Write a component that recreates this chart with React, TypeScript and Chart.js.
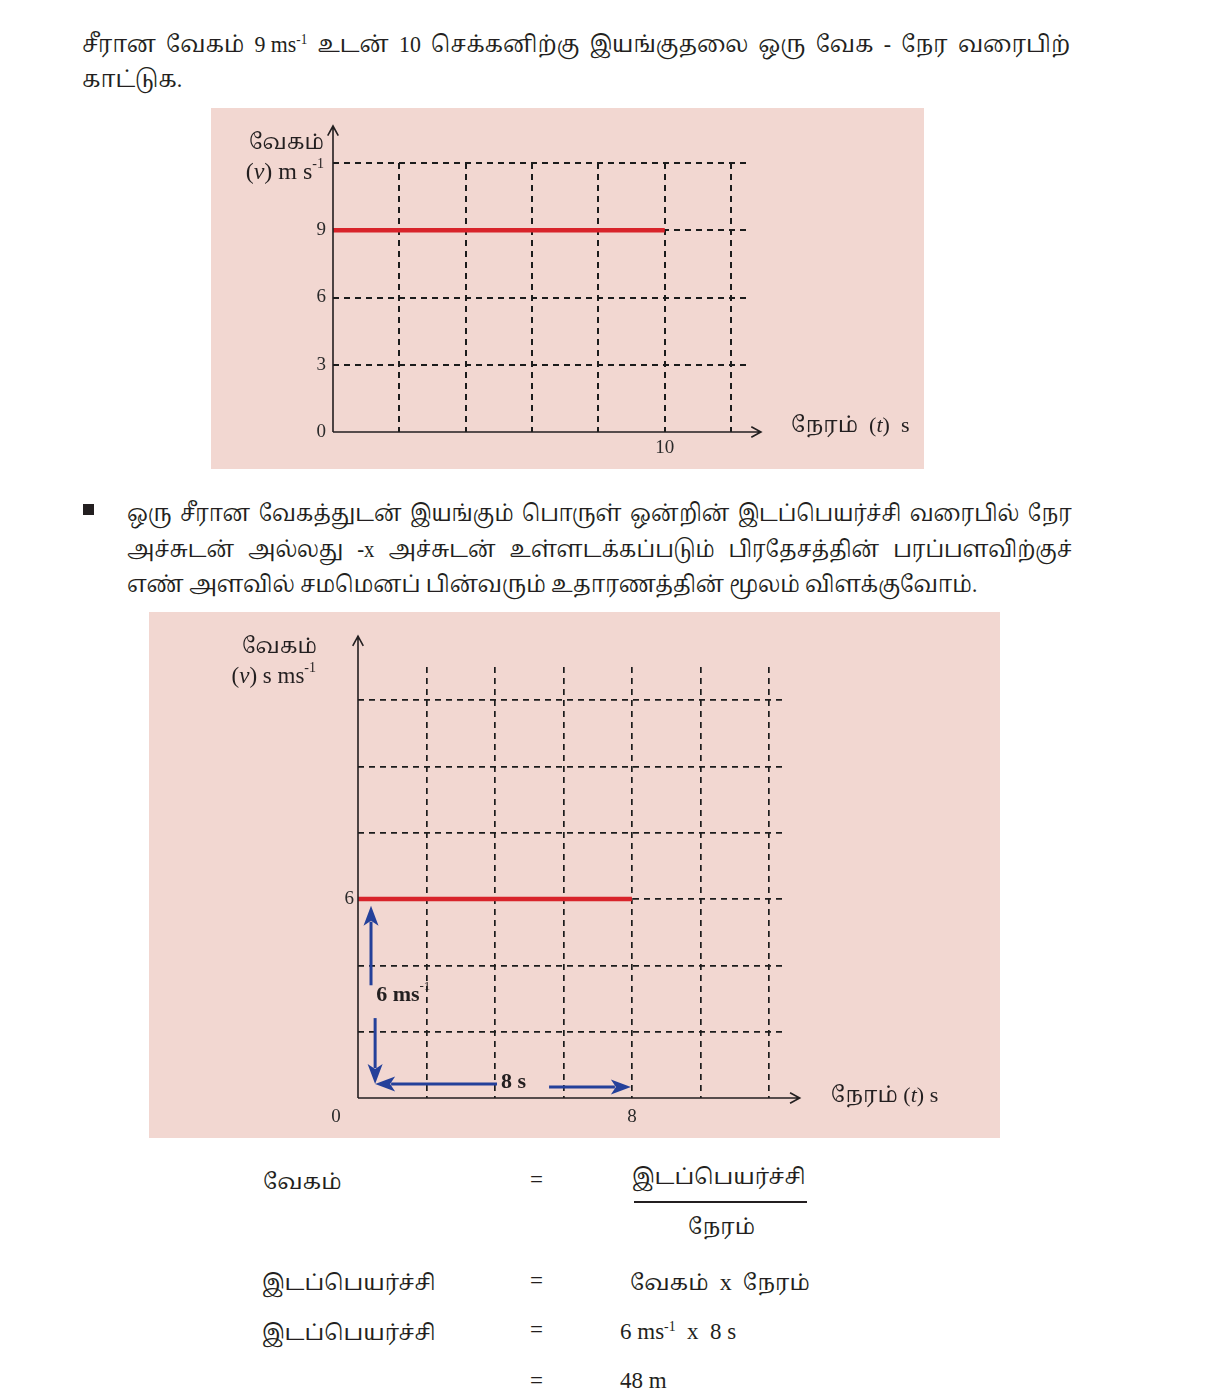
import React, { useEffect, useRef } from "react";
import { Chart, registerables } from "chart.js";

Chart.register(...registerables);

// ---------------- data ----------------
const chart1Time = [0, 10];
const chart1Velocity = [9, 9];
const chart1YTickLabels = [0, 3, 6, 9];
const chart1XTickLabels = [10];

const chart2Time = [0, 8];
const chart2Velocity = [6, 6];
const chart2YTickLabels = [6];
const chart2XTickLabels = [8];

// blue dimension arrows on the second chart (data units: s, m/s)
const arrowFromT = [0.38, 0.5, 4.06, 5.58];
const arrowFromV = [3.4, 2.41, 0.42, 0.33];
const arrowToT = [0.38, 0.5, 0.5, 7.97];
const arrowToV = [5.8, 0.42, 0.42, 0.33];

// ---------------- styles ----------------
const PINK = "#f2d7d1";
const INK = "#231f20";
const RED = "#d8232a";
const BLUE = "#24409a";
const SERIF =
  '"Liberation Serif", "Times New Roman", "Noto Serif Tamil", "Noto Sans Tamil", "Lohit Tamil", serif';

type Run = { t: string; size: number; italic?: boolean; bold?: boolean; sup?: boolean };

function drawRuns(
  ctx: CanvasRenderingContext2D,
  runs: Run[],
  x: number,
  y: number,
  align: "left" | "right" | "center",
  color = INK
) {
  ctx.save();
  ctx.fillStyle = color;
  ctx.textBaseline = "middle";
  ctx.textAlign = "left";
  const fontOf = (r: Run) =>
    `${r.italic ? "italic " : ""}${r.bold ? "bold " : ""}${r.sup ? Math.round(r.size * 0.6) : r.size}px ${SERIF}`;
  let total = 0;
  const widths = runs.map((r) => {
    ctx.font = fontOf(r);
    const w = ctx.measureText(r.t).width;
    total += w;
    return w;
  });
  let cx = align === "left" ? x : align === "right" ? x - total : x - total / 2;
  runs.forEach((r, i) => {
    ctx.font = fontOf(r);
    ctx.fillText(r.t, cx, r.sup ? y - r.size * 0.38 : y);
    cx += widths[i];
  });
  ctx.restore();
}

function axisArrow(ctx: CanvasRenderingContext2D, x0: number, y0: number, x1: number, y1: number) {
  const ang = Math.atan2(y1 - y0, x1 - x0);
  const L = 11;
  const W = 0.5;
  ctx.save();
  ctx.strokeStyle = INK;
  ctx.lineWidth = 1.6;
  ctx.setLineDash([]);
  ctx.beginPath();
  ctx.moveTo(x0, y0);
  ctx.lineTo(x1, y1);
  ctx.moveTo(x1 - L * Math.cos(ang - W), y1 - L * Math.sin(ang - W));
  ctx.lineTo(x1, y1);
  ctx.lineTo(x1 - L * Math.cos(ang + W), y1 - L * Math.sin(ang + W));
  ctx.stroke();
  ctx.restore();
}

function filledArrow(ctx: CanvasRenderingContext2D, x0: number, y0: number, x1: number, y1: number) {
  const ang = Math.atan2(y1 - y0, x1 - x0);
  const HL = 20;
  const HW = 7.5;
  const bx = x1 - HL * Math.cos(ang);
  const by = y1 - HL * Math.sin(ang);
  ctx.save();
  ctx.strokeStyle = BLUE;
  ctx.fillStyle = BLUE;
  ctx.lineWidth = 3;
  ctx.setLineDash([]);
  ctx.beginPath();
  ctx.moveTo(x0, y0);
  ctx.lineTo(bx + 4 * Math.cos(ang), by + 4 * Math.sin(ang));
  ctx.stroke();
  ctx.beginPath();
  ctx.moveTo(x1, y1);
  ctx.lineTo(bx + HW * Math.sin(ang), by - HW * Math.cos(ang));
  ctx.lineTo(bx + 5 * Math.cos(ang), by + 5 * Math.sin(ang));
  ctx.lineTo(bx - HW * Math.sin(ang), by + HW * Math.cos(ang));
  ctx.closePath();
  ctx.fill();
  ctx.restore();
}

type Spec = {
  time: number[];
  vel: number[];
  xMax: number;
  yMax: number;
  xStep: number;
  yStep: number;
  xLabels: number[];
  yLabels: number[];
  padTop: number;
  padRight: number;
  yAxisW: number;
  xAxisH: number;
  yTickPad: number;
  xTickPad: number;
  axisXEnd: number;
  axisYEnd: number;
  gridWidth: number;
  decorate: (ctx: CanvasRenderingContext2D, px: (v: number) => number, py: (v: number) => number) => void;
};

function buildConfig(spec: Spec): any {
  const gridColor = (c: any) => (c.tick && c.tick.value === 0 ? "rgba(0,0,0,0)" : "#1c1c1c");
  return {
    type: "line",
    data: {
      datasets: [
        {
          data: spec.time.map((t, i) => ({ x: t, y: spec.vel[i] })),
          borderColor: RED,
          borderWidth: 4.5,
          borderCapStyle: "butt",
          pointRadius: 0,
          tension: 0,
          fill: false,
        },
      ],
    },
    options: {
      responsive: false,
      animation: false,
      devicePixelRatio: 1,
      layout: { padding: { left: 0, top: spec.padTop, right: spec.padRight, bottom: 0 } },
      plugins: { legend: { display: false }, tooltip: { enabled: false }, title: { display: false } },
      scales: {
        x: {
          type: "linear",
          min: 0,
          max: spec.xMax,
          afterFit: (s: any) => {
            s.height = spec.xAxisH;
          },
          border: { display: false, dash: [6, 5] },
          grid: { drawTicks: false, color: gridColor, lineWidth: spec.gridWidth },
          ticks: {
            stepSize: spec.xStep,
            includeBounds: false,
            autoSkip: false,
            maxRotation: 0,
            padding: spec.xTickPad,
            color: "#2a2a2a",
            font: { family: SERIF, size: 19 },
            callback: (v: any) => (spec.xLabels.includes(Number(v)) ? String(v) : ""),
          },
        },
        y: {
          type: "linear",
          min: 0,
          max: spec.yMax,
          afterFit: (s: any) => {
            s.width = spec.yAxisW;
          },
          border: { display: false, dash: [6, 5] },
          grid: { drawTicks: false, color: gridColor, lineWidth: spec.gridWidth },
          ticks: {
            stepSize: spec.yStep,
            includeBounds: false,
            autoSkip: false,
            padding: spec.yTickPad,
            color: "#2a2a2a",
            font: { family: SERIF, size: 19 },
            callback: (v: any) => (spec.yLabels.includes(Number(v)) ? String(v) : ""),
          },
        },
      },
    },
    plugins: [
      {
        id: "decor",
        afterDraw(chart: any) {
          const ctx = chart.ctx as CanvasRenderingContext2D;
          const xs = chart.scales.x;
          const ys = chart.scales.y;
          const px = (v: number) => xs.getPixelForValue(v);
          const py = (v: number) => ys.getPixelForValue(v);
          axisArrow(ctx, px(0), py(0), px(0), py(spec.axisYEnd));
          axisArrow(ctx, px(0), py(0), px(spec.axisXEnd), py(0));
          spec.decorate(ctx, px, py);
        },
      },
    ],
  };
}

const spec1: Spec = {
  time: chart1Time,
  vel: chart1Velocity,
  xMax: 12.6,
  yMax: 12,
  xStep: 2,
  yStep: 3,
  xLabels: chart1XTickLabels,
  yLabels: chart1YTickLabels,
  padTop: 55,
  padRight: 173,
  yAxisW: 122,
  xAxisH: 37,
  yTickPad: 7,
  xTickPad: 5,
  axisXEnd: 12.9,
  axisYEnd: 13.65,
  gridWidth: 2,
  decorate: (ctx, px, py) => {
    drawRuns(ctx, [{ t: "வேகம்", size: 21 }], px(0) - 9, py(12) - 20, "right");
    drawRuns(
      ctx,
      [
        { t: "(", size: 24 },
        { t: "v", size: 24, italic: true },
        { t: ") m s", size: 24 },
        { t: "-1", size: 24, sup: true },
      ],
      px(0) - 9,
      py(12) + 10,
      "right"
    );
    drawRuns(
      ctx,
      [
        { t: "நேரம்  (", size: 22 },
        { t: "t", size: 22, italic: true },
        { t: ")  s", size: 22 },
      ],
      px(12.9) + 30,
      py(0) - 6,
      "left"
    );
  },
};

const spec2: Spec = {
  time: chart2Time,
  vel: chart2Velocity,
  xMax: 12.5,
  yMax: 13,
  xStep: 2,
  yStep: 2,
  xLabels: chart2XTickLabels,
  yLabels: chart2YTickLabels,
  padTop: 55,
  padRight: 214,
  yAxisW: 209,
  xAxisH: 40,
  yTickPad: 4,
  xTickPad: 8,
  axisXEnd: 12.9,
  axisYEnd: 13.93,
  gridWidth: 1.7,
  decorate: (ctx, px, py) => {
    drawRuns(ctx, [{ t: "வேகம்", size: 21 }], px(0) - 41, py(13) - 20, "right");
    drawRuns(
      ctx,
      [
        { t: "(", size: 23 },
        { t: "v", size: 23, italic: true },
        { t: ") s ms", size: 23 },
        { t: "-1", size: 23, sup: true },
      ],
      px(0) - 42,
      py(13) + 10,
      "right"
    );
    drawRuns(
      ctx,
      [
        { t: "நேரம் (", size: 22 },
        { t: "t", size: 22, italic: true },
        { t: ") s", size: 22 },
      ],
      px(12.9) + 31,
      py(0) - 2,
      "left"
    );
    drawRuns(ctx, [{ t: "0", size: 19 }], px(0) - 22, py(0) + 19, "center", "#2a2a2a");
    for (let i = 0; i < arrowFromT.length; i++) {
      filledArrow(ctx, px(arrowFromT[i]), py(arrowFromV[i]), px(arrowToT[i]), py(arrowToV[i]));
    }
    drawRuns(
      ctx,
      [
        { t: "6 ms", size: 22, bold: true },
        { t: "-1", size: 22, sup: true },
      ],
      px(0.53),
      py(3.1),
      "left"
    );
    drawRuns(ctx, [{ t: "8 s", size: 22, bold: true }], px(4.18), py(0.48), "left");
  },
};

function ChartBox({ spec, left, top, width, height }: { spec: Spec; left: number; top: number; width: number; height: number }) {
  const ref = useRef<HTMLCanvasElement | null>(null);
  useEffect(() => {
    if (!ref.current) return;
    const chart = new Chart(ref.current, buildConfig(spec));
    return () => chart.destroy();
  }, [spec]);
  return (
    <div style={{ position: "absolute", left, top, width, height, background: PINK }}>
      <canvas ref={ref} width={width} height={height} style={{ display: "block", width, height }} />
    </div>
  );
}

function Line({
  x,
  y,
  w,
  size = 22,
  sx = 1,
  justify = false,
  words,
  children,
}: {
  x: number;
  y: number;
  w?: number;
  size?: number;
  sx?: number;
  justify?: boolean;
  words?: React.ReactNode[];
  children?: React.ReactNode;
}) {
  const lh = Math.round(size * 1.4);
  const style: React.CSSProperties = {
    position: "absolute",
    left: x,
    top: y - lh / 2,
    height: lh,
    lineHeight: `${lh}px`,
    fontSize: size,
    fontFamily: SERIF,
    color: INK,
    whiteSpace: "nowrap",
    transform: sx !== 1 ? `scaleX(${sx})` : undefined,
    transformOrigin: "left center",
  };
  if (justify && words) {
    return (
      <div style={{ ...style, width: (w || 0) / sx, display: "flex", justifyContent: "space-between" }}>
        {words.map((wd, i) => (
          <span key={i}>{wd}</span>
        ))}
      </div>
    );
  }
  return <div style={style}>{children}</div>;
}

const Sup = ({ children }: { children: React.ReactNode }) => (
  <sup style={{ fontSize: "0.6em", verticalAlign: "0.55em", lineHeight: 0 }}>{children}</sup>
);

export default function App() {
  return (
    <div style={{ position: "absolute", left: 0, top: 0, width: 1205, height: 1400, background: "#fff", overflow: "hidden" }}>
      <Line
        x={82}
        y={45}
        w={988}
        size={23}
        sx={0.95}
        justify
        words={[
          "சீரான",
          "வேகம்",
          <>
            9 ms<Sup>-1</Sup>
          </>,
          "உடன்",
          "10",
          "செக்கனிற்கு",
          "இயங்குதலை",
          "ஒரு",
          "வேக",
          "-",
          "நேர",
          "வரைபிற்",
        ]}
      />
      <Line x={82} y={80} size={23} sx={0.95}>
        காட்டுக.
      </Line>

      <ChartBox spec={spec1} left={211} top={108} width={713} height={361} />

      <div style={{ position: "absolute", left: 83, top: 504, width: 11, height: 11, background: INK }} />
      <Line
        x={127}
        y={514}
        w={945}
        size={23}
        sx={0.9}
        justify
        words={["ஒரு", "சீரான", "வேகத்துடன்", "இயங்கும்", "பொருள்", "ஒன்றின்", "இடப்பெயர்ச்சி", "வரைபில்", "நேர"]}
      />
      <Line
        x={127}
        y={550}
        w={945}
        size={23}
        sx={0.9}
        justify
        words={["அச்சுடன்", "அல்லது", "-x", "அச்சுடன்", "உள்ளடக்கப்படும்", "பிரதேசத்தின்", "பரப்பளவிற்குச்"]}
      />
      <Line x={127} y={585} size={23} sx={0.92}>
        எண் அளவில் சமமெனப் பின்வரும் உதாரணத்தின் மூலம் விளக்குவோம்.
      </Line>

      <ChartBox spec={spec2} left={149} top={612} width={851} height={526} />

      <Line x={263} y={1181} size={22}>
        வேகம்
      </Line>
      <Line x={530} y={1180} size={23}>
        =
      </Line>
      <Line x={632} y={1176} size={22}>
        இடப்பெயர்ச்சி
      </Line>
      <div style={{ position: "absolute", left: 634, top: 1201, width: 173, height: 1.5, background: INK }} />
      <Line x={688} y={1226} size={22}>
        நேரம்
      </Line>

      <Line x={262} y={1282} size={22}>
        இடப்பெயர்ச்சி
      </Line>
      <Line x={530} y={1281} size={23}>
        =
      </Line>
      <Line x={630} y={1282} size={22}>
        வேகம்&nbsp; <span style={{ fontSize: 24 }}>x</span>&nbsp; நேரம்
      </Line>

      <Line x={262} y={1332} size={22}>
        இடப்பெயர்ச்சி
      </Line>
      <Line x={530} y={1330} size={23}>
        =
      </Line>
      <Line x={620} y={1332} size={23}>
        6 ms<Sup>-1</Sup>&nbsp; x&nbsp; 8 s
      </Line>

      <Line x={530} y={1381} size={23}>
        =
      </Line>
      <Line x={620} y={1381} size={23}>
        48 m
      </Line>
    </div>
  );
}
